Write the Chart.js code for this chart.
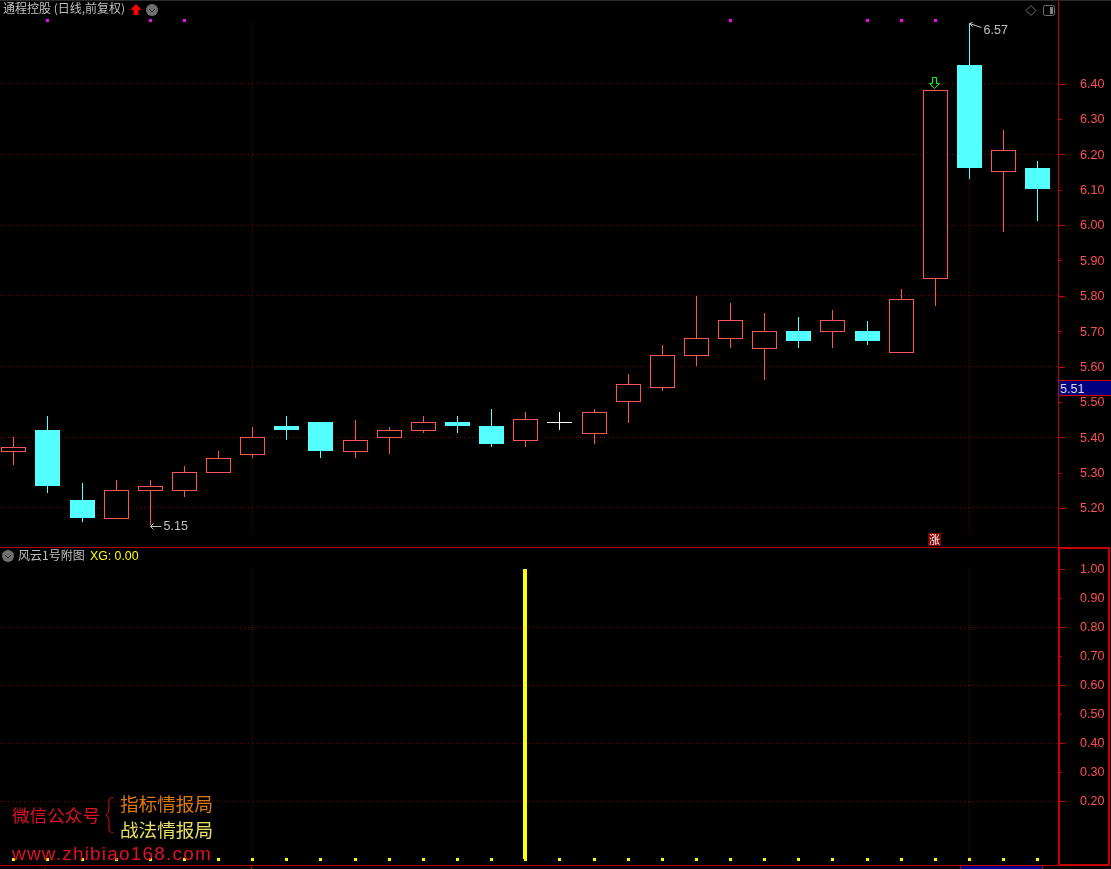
<!DOCTYPE html>
<html>
<head>
<meta charset="utf-8">
<title>通程控股</title>
<script src="https://cdn.jsdelivr.net/npm/chart.js@4"></script>
<style>
  html, body { margin: 0; padding: 0; background: #000; overflow: hidden; }
  #stage { position: relative; width: 1111px; height: 869px; overflow: hidden; background: #000; font-family: "Noto Sans CJK SC", sans-serif; }
  canvas { position: absolute; left: 0; }
  #main { top: 0; }
  #sub { top: 547px; }
  .txt { position: absolute; white-space: nowrap; line-height: 1; }
  .box { position: absolute; }
  svg { position: absolute; left: 0; top: 0; }
</style>
</head>
<body>
<div id="stage">
  <canvas id="main" width="1111" height="547"></canvas>
  <canvas id="sub" width="1111" height="319"></canvas>

  <div class="box" style="left:0;top:0;width:1111px;height:1px;background:#2c2c2c"></div>
  <div class="box" style="left:0;top:547px;width:1058px;height:1px;background:#b80000"></div>
  <div class="box" style="left:0;top:865px;width:1058px;height:1px;background:#b80000"></div>
  <div class="box" style="left:1058px;top:547px;width:48px;height:315px;border:2px solid #c80000"></div>
  <div class="box" style="left:44px;top:868px;width:1px;height:1px;background:#b80000"></div>
  <div class="box" style="left:251px;top:866px;width:1px;height:3px;background:#b80000"></div>

  <div class="txt" style="left:3px;top:2px;font-size:12px;color:#c0c0c0">通程控股 (日线,前复权)</div>
  <div class="txt" style="left:18px;top:549px;font-size:12px;color:#c0c0c0">风云1号附图</div>
  <div class="txt" style="left:90px;top:549px;font:12.3px 'Liberation Sans';color:#ffff00">XG: 0.00</div>

  <div class="box" style="left:1059px;top:380px;width:52px;height:14px;background:#000080;border-top:1px solid #d00000;border-bottom:1px solid #d00000"></div>
  <div class="txt" style="left:1060px;top:382px;font:12.5px 'Liberation Sans';color:#d8d8d8">5.51</div>

  <div class="box" style="left:928px;top:533px;width:13px;height:13px;background:#800000"></div>
  <div class="txt" style="left:929px;top:534px;font-size:11px;color:#fff">涨</div>

  <div class="txt" style="left:12px;top:806px;font-size:17.6px;color:#e01028">微信公众号</div>
  <div class="txt" style="left:120px;top:794px;font-size:18.6px;color:#dc7a08">指标情报局</div>
  <div class="txt" style="left:120px;top:820px;font-size:18.6px;color:#e6e060">战法情报局</div>
  <div class="txt" style="left:12px;top:843px;font:19px 'Liberation Sans';letter-spacing:1.2px;color:#e01028">www.zhibiao168.com</div>

  <div class="box" style="left:960px;top:865px;width:81px;height:4px;border:1px solid #c00000;border-bottom:0;background:#000080;overflow:hidden">
    <div class="txt" style="left:2px;top:1px;font:12px 'Liberation Sans';color:#e0e0e0">2020/09/09/三</div>
  </div>

  <svg width="1111" height="869">
    <polygon points="136,4 141.5,10 138.5,10 138.5,15 133.5,15 133.5,10 130.5,10" fill="#ff0000"/>
    <circle cx="152" cy="10" r="6" fill="#707070"/>
    <polyline points="149,9 152,12 155,9" fill="none" stroke="#222" stroke-width="1"/>
    <circle cx="8" cy="556" r="6" fill="#707070"/>
    <polyline points="5,555 8,558 11,555" fill="none" stroke="#222" stroke-width="1"/>
    <polygon points="1031,5.5 1036,10.5 1031,15.5 1026,10.5" fill="none" stroke="#707070"/>
    <rect x="1043.5" y="5.5" width="11" height="10" rx="2" fill="none" stroke="#707070"/>
    <rect x="1050" y="7" width="3" height="7" fill="#808080"/>
    <path d="M113,797.5 C108,797.5 109,801 109,806 C109,811 108,814 105.5,815 C108,816 109,819 109,824 C109,829 108,832.5 113,832.5" fill="none" stroke="#e01028" stroke-width="1"/>
  </svg>
</div>

<script>
// Candles, left to right
const opens  = [5.36,5.42,5.22,5.17,5.25,5.25,5.30,5.35,5.43,5.443,5.36,5.40,5.42,5.443,5.43,5.39,5.443,5.41,5.50,5.54,5.63,5.68,5.65,5.70,5.70,5.70,5.64,5.85,6.45,6.15,6.16];
const closes = [5.37,5.26,5.17,5.25,5.26,5.30,5.34,5.40,5.42,5.36,5.39,5.42,5.443,5.43,5.38,5.45,5.443,5.47,5.55,5.63,5.68,5.73,5.70,5.67,5.73,5.67,5.79,6.38,6.16,6.21,6.10];
const highs  = [5.40,5.46,5.27,5.28,5.28,5.32,5.36,5.43,5.46,5.443,5.45,5.43,5.46,5.46,5.48,5.47,5.47,5.48,5.58,5.66,5.80,5.78,5.75,5.74,5.76,5.73,5.82,6.38,6.57,6.27,6.18];
const lows   = [5.32,5.24,5.16,5.17,5.15,5.23,5.30,5.34,5.39,5.34,5.34,5.35,5.41,5.41,5.37,5.37,5.42,5.38,5.44,5.53,5.60,5.65,5.56,5.65,5.65,5.66,5.64,5.77,6.13,5.98,6.01];

// Lower pane series
const xgValues = [0,0,0,0,0,0,0,0,0,0,0,0,0,0,0,1,0,0,0,0,0,0,0,0,0,0,0,0,0,0,0];

// Candles carrying a magenta signal dot on the top row, and the row's level
const signalCandles = [1,4,5,21,25,26,27];
const signalLevel = 6.577;

// Axis ticks
const priceTicks = [6.40,6.30,6.20,6.10,6.00,5.90,5.80,5.70,5.60,5.50,5.40,5.30,5.20];
const priceGridLines = [6.40,6.20,6.00,5.80,5.60,5.40,5.20];
const xgTicks = [1.00,0.90,0.80,0.70,0.60,0.50,0.40,0.30,0.20];
const xgGridLines = [0.80,0.60,0.40,0.20];
const verticalGridCandles = [7,28];

const UP = '#ff5454';
const DOWN = '#54ffff';
const FLAT = '#ffffff';
const AXIS = '#c80000';
const GRID = '#8a0000';
const LABEL = '#ff5050';

const candleX = opens.map((_, i) => i);
const candleColor = opens.map((o, i) => closes[i] > o ? UP : closes[i] < o ? DOWN : FLAT);
const bodyFill = opens.map((o, i) => closes[i] > o ? '#000000' : candleColor[i]);

const isClose = (list, v) => list.some(d => Math.abs(d - v) < 0.001);

// crisp pixels: the terminal this copies from never antialiases its candles
const snapMarks = {
  id: 'snapMarks',
  beforeDatasetsDraw(chart) {
    chart.getSortedVisibleDatasetMetas().forEach((meta) => {
      const isBody = meta.label === 'body';
      meta.data.forEach((el, i) => {
        el.x = el.width % 2 === 0 ? Math.floor(el.x) : Math.floor(el.x) + 0.5;
        if (meta.type === 'bar') {
          const hi = Math.min(el.y, el.base);
          const lo = Math.max(el.y, el.base);
          // hollow bodies close their box one row lower than filled ones
          el.y = isBody ? Math.floor(hi) : Math.round(hi);
          el.base = isBody && closes[i] > opens[i] ? Math.ceil(lo) : Math.floor(lo);
          if (el.y === el.base) el.base += 1;
          el.height = el.base - el.y;
        } else {
          el.y = Math.floor(el.y) + 0.5;
        }
      });
    });
  }
};

function axisTicks(list) {
  return {
    id: 'axisTicks',
    beforeDatasetsDraw(chart) {
      const ctx = chart.ctx;
      const y = chart.scales.y;
      const x = chart.scales.x;
      ctx.save();
      ctx.strokeStyle = AXIS;
      ctx.lineWidth = 1;
      y.ticks.forEach((t) => {
        const py = Math.round(y.getPixelForValue(t.value)) + 0.5;
        const len = Math.round(t.value * 100) % 20 === 0 ? 6 : 3;
        ctx.beginPath();
        ctx.moveTo(1059, py);
        ctx.lineTo(1059 + len, py);
        ctx.stroke();
      });
      // the two vertical grid lines
      ctx.strokeStyle = GRID;
      ctx.setLineDash([1, 3]);
      verticalGridCandles.forEach((c) => {
        const px = Math.floor(x.getPixelForValue(c)) + 0.5;
        ctx.beginPath();
        ctx.moveTo(px, y.getPixelForValue(list[0]));
        ctx.lineTo(px, y.getPixelForValue(list[1]));
        ctx.stroke();
      });
      ctx.restore();
    }
  };
}

const extremeLabels = {
  id: 'extremeLabels',
  afterDatasetsDraw(chart) {
    const ctx = chart.ctx;
    const x = chart.scales.x;
    const y = chart.scales.y;
    ctx.save();
    ctx.font = "12.5px 'Liberation Sans'";
    ctx.textBaseline = 'middle';
    ctx.strokeStyle = '#c0c0c0';
    ctx.fillStyle = '#c0c0c0';
    ctx.lineWidth = 1;

    // low
    let px = Math.floor(x.getPixelForValue(4)) + 0.5;
    let py = Math.round(y.getPixelForValue(5.15)) + 0.5;
    ctx.beginPath();
    ctx.moveTo(px + 3, py - 3);
    ctx.lineTo(px, py);
    ctx.lineTo(px + 3, py + 3);
    ctx.moveTo(px, py);
    ctx.lineTo(px + 11, py);
    ctx.stroke();
    ctx.fillText('5.15', px + 13, py);

    // high
    px = Math.floor(x.getPixelForValue(28)) + 0.5;
    py = Math.round(y.getPixelForValue(6.57)) + 0.5;
    ctx.beginPath();
    ctx.moveTo(px + 3, py - 1);
    ctx.lineTo(px, py);
    ctx.lineTo(px + 3, py + 3);
    ctx.moveTo(px, py);
    ctx.lineTo(px + 12, py + 4);
    ctx.stroke();
    ctx.fillText('6.57', px + 14, py + 7);

    // green down arrow above the big candle
    px = Math.floor(x.getPixelForValue(27)) - 0.5;
    py = Math.round(y.getPixelForValue(closes[27])) - 13.5;
    ctx.strokeStyle = '#00ff00';
    ctx.beginPath();
    ctx.moveTo(px - 2, py);
    ctx.lineTo(px + 2, py);
    ctx.lineTo(px + 2, py + 6);
    ctx.lineTo(px + 5, py + 6);
    ctx.lineTo(px, py + 11);
    ctx.lineTo(px - 5, py + 6);
    ctx.lineTo(px - 2, py + 6);
    ctx.closePath();
    ctx.stroke();
    ctx.restore();
  }
};

function yAxis(min, max, ticks, gridLines) {
  return {
    position: 'right',
    min: min,
    max: max,
    afterFit(scale) {
      // full height plot, the tick labels never reach the pane edges
      scale.width = 53;
      scale.paddingTop = 0;
      scale.paddingBottom = 0;
    },
    afterBuildTicks(scale) { scale.ticks = ticks.map(v => ({ value: v })); },
    grid: {
      drawTicks: false,
      lineWidth: 1,
      color: ctx => isClose(gridLines, ctx.tick.value) ? GRID : 'transparent'
    },
    border: { color: AXIS, width: 1, dash: [1, 3] },
    ticks: {
      padding: 22,
      labelOffset: 1,
      color: LABEL,
      font: { family: 'Liberation Sans', size: 12.5 },
      callback: v => v.toFixed(2)
    }
  };
}

const xAxis = {
  type: 'linear',
  min: -0.4043,
  max: 30.595,
  offset: false,
  display: false
};

Chart.defaults.animation = false;

new Chart(document.getElementById('main'), {
  type: 'bar',
  plugins: [snapMarks, axisTicks([6.57, 5.13]), extremeLabels],
  data: {
    datasets: [
      {
        label: 'body',
        order: 1,
        grouped: false,
        barThickness: 25,
        inflateAmount: 0,
        data: candleX.map(i => ({ x: i, y: [opens[i], closes[i]] })),
        backgroundColor: bodyFill,
        borderColor: candleColor,
        borderWidth: 1,
        borderSkipped: false
      },
      {
        label: 'wick',
        order: 2,
        grouped: false,
        barThickness: 1,
        inflateAmount: 0,
        data: candleX.map(i => ({ x: i, y: [lows[i], highs[i]] })),
        backgroundColor: candleColor,
        borderWidth: 0
      },
      {
        type: 'scatter',
        label: 'signal',
        order: 0,
        data: signalCandles.map(i => ({ x: i, y: signalLevel })),
        pointStyle: 'rect',
        pointRadius: 2.1213,
        pointBorderWidth: 0,
        pointBackgroundColor: '#ff00ff'
      }
    ]
  },
  options: {
    responsive: false,
    layout: { padding: 0, autoPadding: false },
    plugins: { legend: { display: false }, tooltip: { enabled: false } },
    scales: { x: xAxis, y: yAxis(5.0897, 6.6362, priceTicks, priceGridLines) }
  }
});

new Chart(document.getElementById('sub'), {
  type: 'bar',
  plugins: [snapMarks, axisTicks([1, 0])],
  data: {
    datasets: [
      {
        label: 'XG',
        order: 2,
        grouped: false,
        barThickness: 4,
        inflateAmount: 0,
        data: candleX.filter(i => xgValues[i] > 0).map(i => ({ x: i, y: xgValues[i] })),
        backgroundColor: '#ffff00',
        borderWidth: 0
      },
      {
        // the indicator also marks its zero line under every candle
        type: 'scatter',
        label: 'XG dots',
        order: 1,
        data: candleX.map(i => ({ x: i, y: 0 })),
        pointStyle: 'rect',
        pointRadius: 2.1213,
        pointBorderWidth: 0,
        pointBackgroundColor: '#ffff00'
      }
    ]
  },
  options: {
    responsive: false,
    layout: { padding: 0, autoPadding: false },
    plugins: { legend: { display: false }, tooltip: { enabled: false } },
    scales: { x: xAxis, y: yAxis(-0.0241, 1.0759, xgTicks, xgGridLines) }
  }
});
</script>
</body>
</html>
